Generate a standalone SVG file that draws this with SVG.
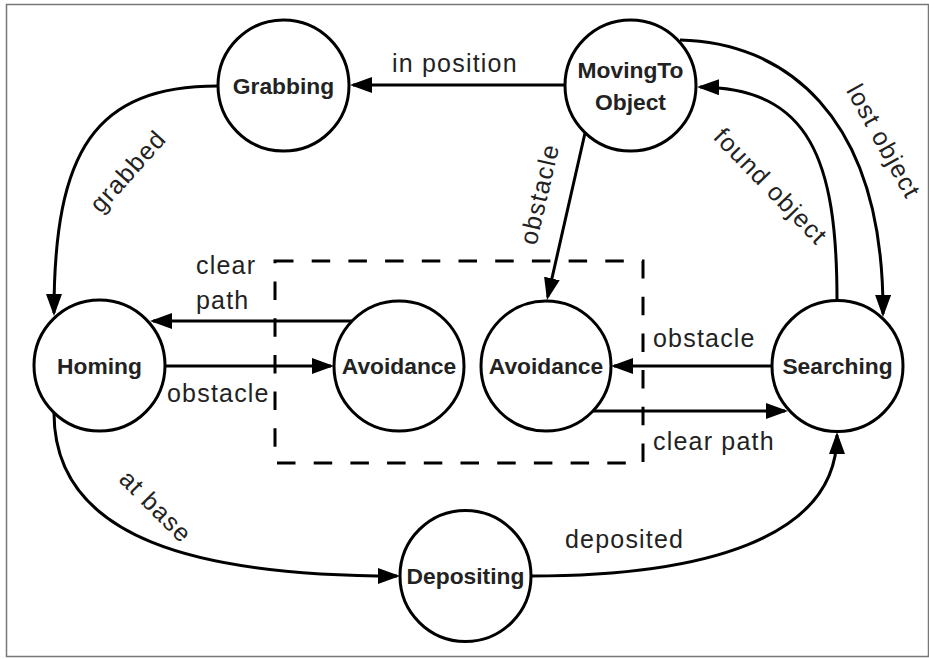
<svg xmlns="http://www.w3.org/2000/svg" width="929" height="659" viewBox="0 0 929 659">
<style>
  .node circle { fill: #fff; stroke: #000; stroke-width: 3; }
  .node text { font-family: "Liberation Sans", Arial, sans-serif; font-weight: bold; font-size: 22.8px; fill: #222; text-anchor: middle; }
  .edge { fill: none; stroke: #000; stroke-width: 3; marker-end: url(#arrow); }
  .lbl { font-family: "Liberation Sans", Arial, sans-serif; font-size: 25px; letter-spacing: 1.2px; fill: #222; }
  .rot { text-anchor: middle; dominant-baseline: central; }
</style>
<defs>
  <marker id="arrow" markerUnits="userSpaceOnUse" markerWidth="22" markerHeight="16" refX="19" refY="8" orient="auto">
    <path d="M0,0 L22,8 L0,16 z" fill="#000"/>
  </marker>
</defs>
<rect x="0" y="0" width="929" height="659" fill="#fff"/>
<rect x="6.5" y="4.5" width="922" height="652" fill="none" stroke="#777" stroke-width="1.5"/>
<rect id="avoidance-box" x="275" y="261" width="368" height="202" fill="none" stroke="#000" stroke-width="3" stroke-dasharray="18.5 18.2"/>

<g id="connectors">
  <path class="edge" d="M565,85 L353,85"/>
  <path class="edge" d="M218,86 C95,86 54,150 54,313"/>
  <path class="edge" d="M585,133 L547.7,297"/>
  <path class="edge" d="M680,40 C780,42 884,110 883,314"/>
  <path class="edge" d="M837,300 C837,160 810,88 700,87"/>
  <path class="edge" d="M352,321 L153,321"/>
  <path class="edge" d="M165,366 L331,366"/>
  <path class="edge" d="M772,366 L614,366"/>
  <path class="edge" d="M592,411 L785,411"/>
  <path class="edge" d="M54,413 C54,540 200,576 397,576"/>
  <path class="edge" d="M531,576 C700,576 837,540 837,435"/>
</g>

<g id="labels">
  <text class="lbl" x="392" y="71.5">in position</text>
  <text class="lbl rot" transform="translate(127.5,171) rotate(-48)">grabbed</text>
  <text class="lbl rot" transform="translate(539,194) rotate(-77)">obstacle</text>
  <text class="lbl rot" transform="translate(884,141) rotate(61)">lost object</text>
  <text class="lbl rot" transform="translate(771,186) rotate(46)">found object</text>
  <text class="lbl" x="196" y="274">clear</text>
  <text class="lbl" x="196" y="309">path</text>
  <text class="lbl" x="167" y="401.7">obstacle</text>
  <text class="lbl" x="653" y="346.7">obstacle</text>
  <text class="lbl" x="653" y="450">clear path</text>
  <text class="lbl rot" transform="translate(156,506) rotate(45)">at base</text>
  <text class="lbl" x="565" y="548">deposited</text>
</g>

<g id="grabbing" class="node"><circle cx="283.5" cy="85.5" r="65.5"/><text x="283.5" y="93.5">Grabbing</text></g>
<g id="movingtoobject" class="node"><circle cx="630.5" cy="85.5" r="65.5"/><text x="630.5" y="77.5">MovingTo</text><text x="630.5" y="109.5">Object</text></g>
<g id="homing" class="node"><circle cx="99.5" cy="365.5" r="65.5"/><text x="99.5" y="374">Homing</text></g>
<g id="avoidance1" class="node"><circle cx="399" cy="366" r="65"/><text x="399" y="374">Avoidance</text></g>
<g id="avoidance2" class="node"><circle cx="546" cy="366" r="65"/><text x="546" y="374">Avoidance</text></g>
<g id="searching" class="node"><circle cx="837.5" cy="366" r="65.5"/><text x="837.5" y="374">Searching</text></g>
<g id="depositing" class="node"><circle cx="465.5" cy="576" r="65.5"/><text x="465.5" y="584">Depositing</text></g>
</svg>
